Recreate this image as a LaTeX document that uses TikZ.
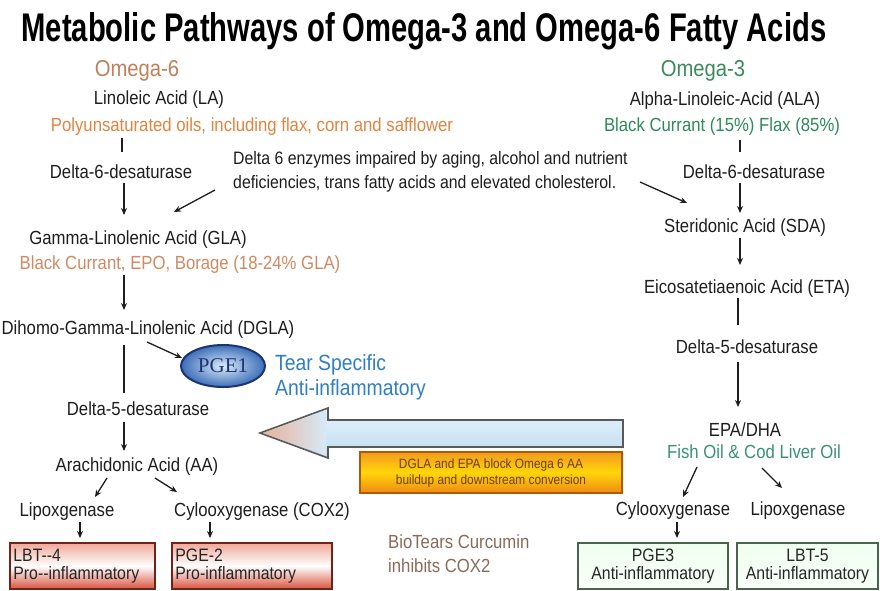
\documentclass[tikz,border=0pt]{standalone}
\usepackage{fontspec}
\setmainfont{Liberation Sans}[FakeStretch=0.88]
\newfontfamily\titlefont{Liberation Sans}[FakeStretch=0.73]
\newfontfamily\pgefont{Liberation Serif}
\usetikzlibrary{arrows.meta,shapes.geometric}
\definecolor{osixhead}{HTML}{C0805A}
\definecolor{osixsrc}{HTML}{E0843F}
\definecolor{osixsrcb}{HTML}{D08A62}
\definecolor{othreehead}{HTML}{3D8A5C}
\definecolor{othreesrc}{HTML}{2E8B57}
\definecolor{fishgreen}{HTML}{3A9272}
\definecolor{tearblue}{HTML}{2F7FC1}
\definecolor{biobrown}{HTML}{8B6A5A}
\definecolor{inkgray}{HTML}{1E1E1E}
\definecolor{pgein}{HTML}{DCEBFA}
\definecolor{pgeout}{HTML}{3C6EB8}
\definecolor{pgeedge}{HTML}{1C3470}
\definecolor{shafttop}{HTML}{E6F3FC}
\definecolor{shaftbot}{HTML}{BFDCF0}
\definecolor{headtip}{HTML}{E9B29A}
\definecolor{headmid}{HTML}{D6E9F7}
\definecolor{greenedge}{HTML}{4A634C}
\definecolor{rededge}{HTML}{6E2418}
\definecolor{redbot}{HTML}{D9533F}
\definecolor{redtop}{HTML}{F0A898}
\definecolor{blocktop}{HTML}{F29A1E}
\definecolor{blockmid}{HTML}{FFD60A}
\definecolor{blockbot}{HTML}{EE8A14}
\definecolor{blocktext}{HTML}{6A4010}
\begin{document}
\begin{tikzpicture}[x=1pt,y=-1pt,
  every node/.style={inner sep=0pt},
  body/.style={font=\fontsize{19}{24}\selectfont, text=inkgray},
  head/.style={font=\fontsize{23}{26}\selectfont},
  arr/.style={-{Stealth[length=7pt,width=6pt]}, line width=1.3pt, draw=inkgray},
  ln/.style={line width=1.3pt, draw=inkgray},
  redbox/.style={draw=rededge, line width=1.6pt, top color=redtop, bottom color=redbot, middle color=white, minimum height=46pt},
  greenbox/.style={draw=greenedge, line width=1.6pt, top color=green!6!white, bottom color=green!3!white, minimum height=46pt},
  boxtext/.style={font=\fontsize{18}{18}\selectfont, text=black!85},
]
\useasboundingbox (0,0) rectangle (880,590);
\fill[white] (0,0) rectangle (880,590);

% title
\node[font=\titlefont\bfseries\fontsize{40}{44}\selectfont] (title) at (424,31) {Metabolic Pathways of Omega-3 and Omega-6 Fatty Acids};

% ---------- Omega-6 column ----------
\node[head, text=osixhead] (om6) at (137,71) {Omega-6};
\node[body] (la) at (159,100) {Linoleic Acid (LA)};
\node[body, text=osixsrc] (laSrc) at (252,127) {Polyunsaturated oils, including flax, corn and safflower};
\node[body] (d6L) at (121,172) {Delta-6-desaturase};
\node[body, anchor=west, align=left, font=\fontsize{18}{24}\selectfont] (enz) at (233,172) {Delta 6 enzymes impaired by aging, alcohol and nutrient\\deficiencies, trans fatty acids and elevated cholesterol.};
\node[body] (gla) at (138,240) {Gamma-Linolenic Acid (GLA)};
\node[body, text=osixsrcb] (glaSrc) at (180,265) {Black Currant, EPO, Borage (18-24\% GLA)};
\node[body] (dgla) at (148,330) {Dihomo-Gamma-Linolenic Acid (DGLA)};
\node[ellipse, minimum width=84pt, minimum height=42pt, draw=pgeedge, line width=2pt,
      inner color=pgein, outer color=pgeout,
      font=\pgefont\fontsize{21}{22}\selectfont, text=pgeedge] (pge1) at (223,366) {PGE1};
\node[text=tearblue, anchor=west, align=left, font=\fontsize{22}{25}\selectfont] (tear) at (275,377) {Tear Specific\\Anti-inflammatory};
\node[body] (d5L) at (138,409) {Delta-5-desaturase};
\node[body] (aa) at (137,467) {Arachidonic Acid (AA)};
\node[body] (lipL) at (67,512) {Lipoxgenase};
\node[body] (coxL) at (262,512) {Cylooxygenase (COX2)};
\node[redbox, minimum width=145pt] (lbt4) at (82.5,566) {};
\node[boxtext, anchor=west, align=left] (lbt4t) at ([xshift=4pt]lbt4.west) {LBT-{}-4\\Pro-{}-inflammatory};
\node[redbox, minimum width=160pt] (pge2) at (252,566) {};
\node[boxtext, anchor=west, align=left] (pge2t) at ([xshift=4pt]pge2.west) {PGE-2\\Pro-inflammatory};
\node[body, text=biobrown, anchor=west, align=left] (bio) at (388,554) {BioTears Curcumin\\inhibits COX2};

% ---------- Omega-3 column ----------
\node[head, text=othreehead] (om3) at (703,71) {Omega-3};
\node[body] (ala) at (725,101) {Alpha-Linoleic-Acid (ALA)};
\node[body, text=othreesrc] (alaSrc) at (722,127) {Black Currant (15\%) Flax (85\%)};
\node[body] (d6R) at (754,172) {Delta-6-desaturase};
\node[body] (sda) at (745,228) {Steridonic Acid (SDA)};
\node[body] (eta) at (747,289) {Eicosatetiaenoic Acid (ETA)};
\node[body] (d5R) at (747,347) {Delta-5-desaturase};
\node[body] (epa) at (745,430) {EPA/DHA};
\node[body, text=fishgreen] (fish) at (754,452) {Fish Oil \& Cod Liver Oil};
\node[body] (cycR) at (673,511) {Cylooxygenase};
\node[body] (lipR) at (798,511) {Lipoxgenase};
\node[greenbox, minimum width=150pt] (pge3) at (653,566) {};
\node[boxtext, align=center] (pge3t) at (pge3.center) {PGE3\\Anti-inflammatory};
\node[greenbox, minimum width=141pt] (lbt5) at (807.5,566) {};
\node[boxtext, align=center] (lbt5t) at (lbt5.center) {LBT-5\\Anti-inflammatory};

% ---------- big arrow & block box ----------
\path[top color=shafttop, bottom color=shaftbot]
  (260,433) -- (328,408) -- (328,420) -- (623,420) -- (623,447) -- (328,447) -- (328,458) -- cycle;
\path[left color=headtip, right color=headmid]
  (263,433) -- (326,410.5) -- (326,455.5) -- cycle;
\draw[draw=black!65, line width=1.6pt, line join=miter]
  (260,433) -- (328,408) -- (328,420) -- (623,420) -- (623,447) -- (328,447) -- (328,458) -- cycle;
\node[draw=orange!70!black, line width=1.2pt, minimum width=262pt, minimum height=41pt,
      top color=blocktop, bottom color=blockbot, middle color=blockmid,
      font=\fontsize{13.5}{16}\selectfont, text=blocktext, align=center] (block) at (491,472.5)
  {DGLA and EPA block Omega 6 AA\\buildup and downstream conversion};

% ---------- connectors, Omega-6 ----------
\draw[ln]  ([shift={(-130,11)}]laSrc.center) -- ([shift={(1,-20)}]d6L.center);
\draw[arr] ([shift={(3,11)}]d6L.center) -- ([shift={(-14,-25)}]gla.center);
\draw[arr] ([shift={(-56,10)}]glaSrc.center) -- ([shift={(-24,-20)}]dgla.center);
\draw[ln]  ([shift={(-24,15)}]dgla.center) -- ([shift={(-14,-16)}]d5L.center);
\draw[arr] ([shift={(-14,13)}]d5L.center) -- ([shift={(-13,-16)}]aa.center);
\draw[arr] ([shift={(-30,11)}]aa.center) -- ([shift={(28,-15)}]lipL.center);
\draw[arr] ([shift={(18,11)}]aa.center) -- ([shift={(-85,-20)}]coxL.center);
\draw[arr] ([shift={(13,10)}]lipL.center) -- ([shift={(-2.5,-28)}]lbt4.center);
\draw[arr] ([shift={(-52,10)}]coxL.center) -- ([shift={(-42,-28)}]pge2.center);
\draw[arr] ([shift={(-1,12)}]dgla.center) -- ([shift={(-41,-8)}]pge1.center);
\draw[arr] ([shift={(-18,18)}]enz.west) -- ([shift={(36,-28)}]gla.center);
\draw[arr] ([shift={(407,10)}]enz.west) -- ([shift={(-58,-25)}]sda.center);

% ---------- connectors, Omega-3 ----------
\draw[ln]  ([shift={(18,13)}]alaSrc.center) -- ([shift={(-14,-20)}]d6R.center);
\draw[arr] ([shift={(-14,11)}]d6R.center) -- ([shift={(-5,-15)}]sda.center);
\draw[arr] ([shift={(-5,10)}]sda.center) -- ([shift={(-7,-24)}]eta.center);
\draw[ln]  ([shift={(-9,9)}]eta.center) -- ([shift={(-9,-22)}]d5R.center);
\draw[arr] ([shift={(-9,15)}]d5R.center) -- ([shift={(-7,-23)}]epa.center);
\draw[arr] ([shift={(-57,15)}]fish.center) -- ([shift={(10,-14)}]cycR.center);
\draw[arr] ([shift={(8,16)}]fish.center) -- ([shift={(-16,-23)}]lipR.center);
\draw[arr] ([shift={(4,11)}]cycR.center) -- ([shift={(24,-28)}]pge3.center);
\end{tikzpicture}
\end{document}
